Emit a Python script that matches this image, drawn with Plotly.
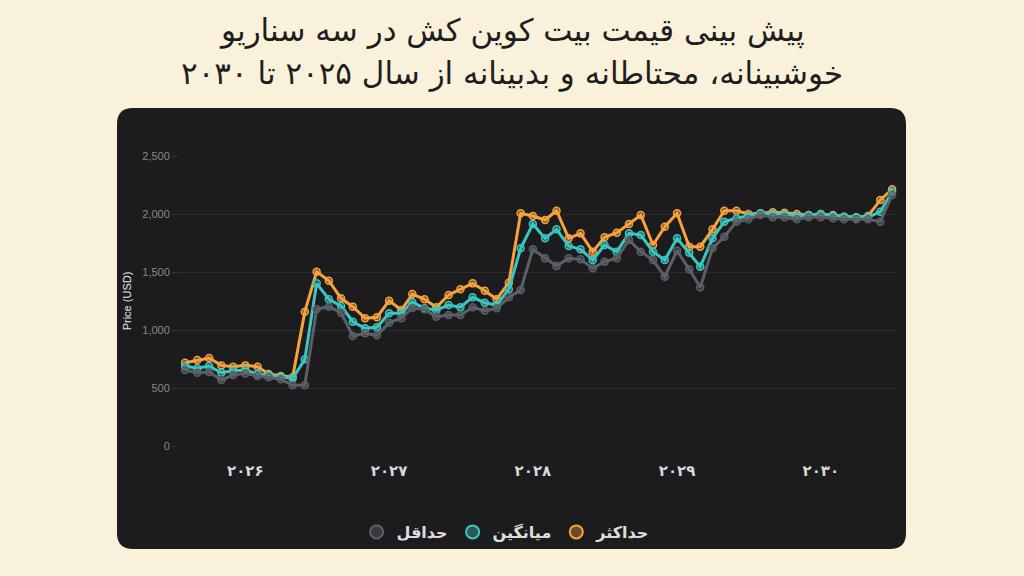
import pandas as pd
import plotly.graph_objects as go

# monthly points, aug 2025 -> jul 2030
months = pd.date_range("2025-08-01", periods=60, freq="MS")

price_max = [718, 741, 759, 695, 684, 695, 684, 621, 603, 592,
             1158, 1503, 1425, 1273, 1201, 1101, 1109, 1253, 1172, 1310,
             1265, 1196, 1302, 1351, 1402, 1339, 1265, 1408, 2006, 1983,
             1948, 2028, 1790, 1833, 1675, 1799, 1839, 1914, 1991, 1733,
             1890, 2006, 1718, 1718, 1868, 2028, 2028, 2000, 2006, 2015,
             2010, 2000, 1991, 2000, 1991, 1977, 1971, 1983, 2121, 2213]
price_avg = [690, 670, 690, 632, 649, 655, 621, 612, 597, 583,
             747, 1402, 1265, 1207, 1071, 1015, 1023, 1144, 1144, 1240,
             1187, 1172, 1215, 1196, 1282, 1235, 1215, 1351, 1704, 1914,
             1790, 1868, 1724, 1696, 1603, 1733, 1675, 1833, 1819, 1675,
             1603, 1790, 1666, 1546, 1790, 1934, 1963, 1983, 2006, 2000,
             2000, 1983, 1991, 2000, 1985, 1977, 1971, 1971, 2020, 2192]
price_min = [655, 632, 638, 569, 612, 626, 603, 592, 575, 523,
             523, 1178, 1201, 1149, 948, 971, 954, 1063, 1101, 1190,
             1178, 1115, 1129, 1129, 1196, 1166, 1187, 1282, 1345, 1696,
             1618, 1552, 1618, 1609, 1532, 1589, 1618, 1776, 1675, 1603,
             1459, 1684, 1523, 1368, 1704, 1804, 1934, 1954, 1991, 1971,
             1971, 1954, 1971, 1971, 1963, 1954, 1954, 1954, 1934, 2164]

year_ticks = ["2026-01-01", "2027-01-01", "2028-01-01", "2029-01-01", "2030-01-01"]
year_labels = ["۲۰۲۶", "۲۰۲۷", "۲۰۲۸", "۲۰۲۹", "۲۰۳۰"]

series = [
    ("حداکثر", price_max, "#f7a23b", "rgba(247,162,59,0.35)"),
    ("میانگین", price_avg, "#3bc6bf", "rgba(59,198,191,0.35)"),
    ("حداقل", price_min, "#5c5f66", "rgba(92,95,102,0.45)"),
]

title_lines = ["پیش بینی قیمت بیت کوین کش در سه سناریو",
               "خوشبینانه، محتاطانه و بدبینانه از سال ۲۰۲۵ تا ۲۰۳۰"]

fig = go.Figure()
for name, vals, col, fill in series:
    fig.add_trace(go.Scatter(x=months, y=vals, mode="lines+markers", name=name,
                             line=dict(color=col, width=3),
                             marker=dict(size=7, color=fill, line=dict(color=col, width=1.5)),
                             showlegend=False))
# legend entries: only circles
for name, vals, col, fill in series:
    fig.add_trace(go.Scatter(x=[None], y=[None], mode="markers", name=name,
                             marker=dict(size=13, color=fill, line=dict(color=col, width=2))))

# plot area in pixels: x 178..898, y 156..446
L, R, T, B = 178, 898, 156, 446
W, H = R - L, B - T
def px(x):
    return (x - L) / W
def py(y):
    return (B - y) / H

cx0, cx1, cy0, cy1, r = 117, 906, 108, 549, 16
rx, ry = r / W, r / H
card = (f"M {px(cx0)+rx},{py(cy0)} L {px(cx1)-rx},{py(cy0)} "
        f"Q {px(cx1)},{py(cy0)} {px(cx1)},{py(cy0)-ry} "
        f"L {px(cx1)},{py(cy1)+ry} Q {px(cx1)},{py(cy1)} {px(cx1)-rx},{py(cy1)} "
        f"L {px(cx0)+rx},{py(cy1)} Q {px(cx0)},{py(cy1)} {px(cx0)},{py(cy1)+ry} "
        f"L {px(cx0)},{py(cy0)-ry} Q {px(cx0)},{py(cy0)} {px(cx0)+rx},{py(cy0)} Z")

title_annots = [dict(text=t, x=px(512), xref="paper", y=py(yy), yref="paper",
                     xanchor="center", yanchor="middle", showarrow=False,
                     font=dict(family="DejaVu Sans", size=31, color="#1e1e1e"))
                for t, yy in zip(title_lines, [31, 73])]

fig.update_layout(
    width=1024, height=576,
    margin=dict(l=L, r=1024 - R, t=T, b=576 - B),
    paper_bgcolor="#f9f1da",
    plot_bgcolor="rgba(0,0,0,0)",
    shapes=[dict(type="path", path=card, xref="paper", yref="paper",
                 fillcolor="#1c1c1e", line=dict(width=0), layer="below")],
    annotations=title_annots,
    showlegend=True,
    legend=dict(orientation="h", x=0.455, xanchor="center", y=py(532), yanchor="middle",
                traceorder="reversed", bgcolor="rgba(0,0,0,0)",
                font=dict(family="DejaVu Sans", size=16, color="#dddddd", weight="bold")),
    xaxis=dict(range=["2025-07-14", "2030-07-16"], tickvals=year_ticks, ticktext=year_labels,
               showgrid=False, zeroline=False, showline=False, ticks="",
               ticklabelstandoff=14,
               tickfont=dict(family="DejaVu Sans", size=15, color="#d8d8d8", weight="bold")),
    yaxis=dict(range=[0, 2500], tickvals=[0, 500, 1000, 1500, 2000, 2500], tickformat=",",
               showgrid=True, gridcolor="#2a2b2e", zeroline=False, showline=False,
               ticks="outside", ticklen=5, tickcolor="#3a3b3e",
               tickfont=dict(family="Liberation Sans", size=11, color="#8a8a8a"),
               title=dict(text="Price (USD)", standoff=8,
                          font=dict(family="Liberation Sans", size=11, color="#e6e6e6"))),
)

fig.write_html("out.html", config={"displayModeBar": False},
               post_script="document.body.style.margin='0';")
